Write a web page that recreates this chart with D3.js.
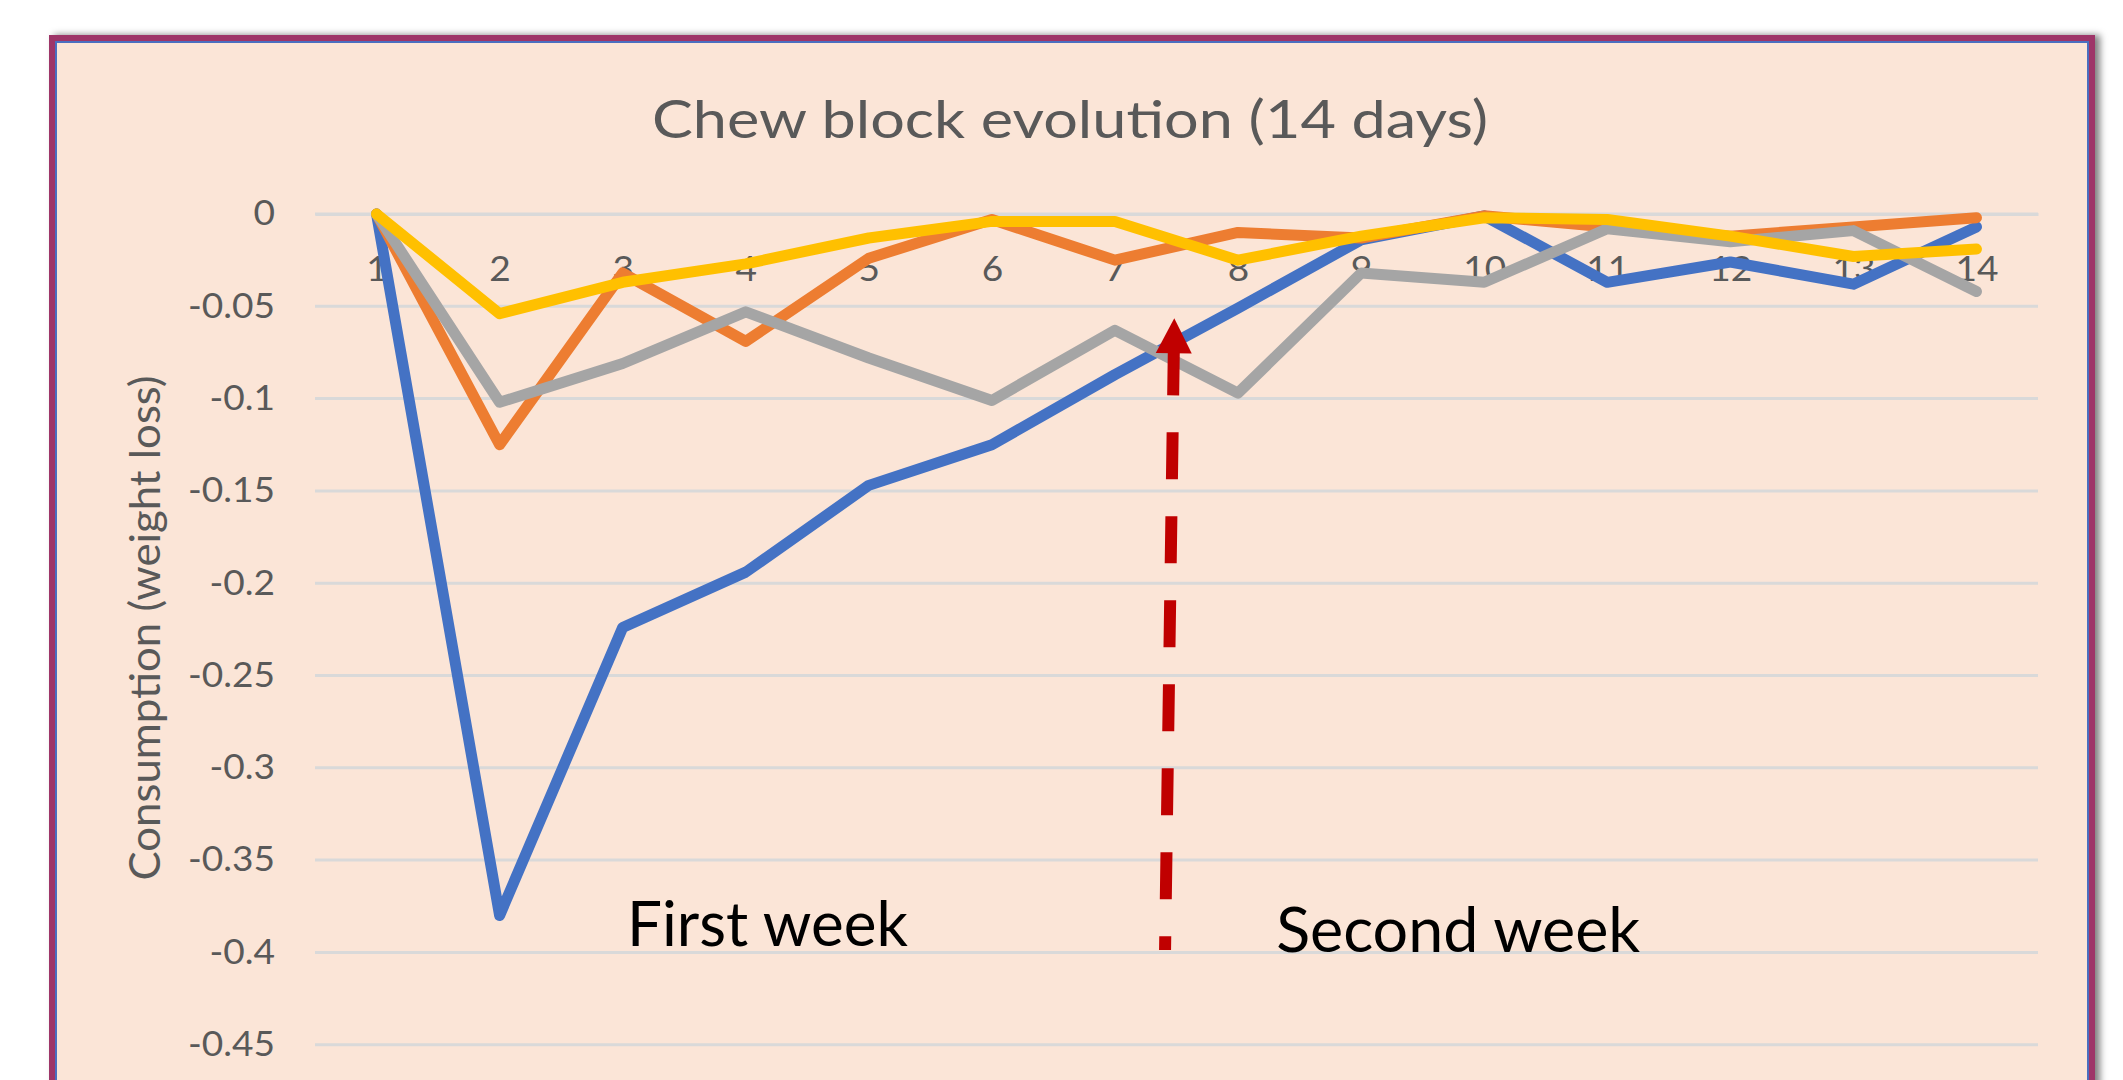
<!DOCTYPE html>
<html>
<head>
<meta charset="utf-8">
<script src="https://d3js.org/d3.v7.min.js"></script>
<style>
  body { margin: 0; background: #ffffff; }
  text { font-family: Lato, "Open Sans", sans-serif; }
</style>
</head>
<body>
<div id="chart"></div>
<script>
// chart data
var days = [1, 2, 3, 4, 5, 6, 7, 8, 9, 10, 11, 12, 13, 14];
var blueSeries   = [0, -0.38, -0.224, -0.194, -0.147, -0.125, -0.087, -0.051, -0.014, -0.001, -0.037, -0.026, -0.038, -0.007];
var orangeSeries = [0, -0.125, -0.032, -0.069, -0.024, -0.003, -0.025, -0.010, -0.013, -0.001, -0.007, -0.012, -0.007, -0.002];
var graySeries   = [0, -0.102, -0.081, -0.053, -0.078, -0.101, -0.063, -0.097, -0.032, -0.037, -0.008, -0.015, -0.009, -0.042];
var yellowSeries = [0, -0.054, -0.037, -0.027, -0.013, -0.004, -0.004, -0.025, -0.012, -0.002, -0.003, -0.012, -0.023, -0.019];
var yTicks = [0, -0.05, -0.1, -0.15, -0.2, -0.25, -0.3, -0.35, -0.4, -0.45];
var chartTitle = "Chew block evolution (14 days)";
var yTitle = "Consumption (weight loss)";

// svg container
var svgWidth = 2123;
var svgHeight = 1080;

// plot area
var plot = { left: 315, right: 2038, top: 214, bottom: 1137 };

var svg = d3.select("#chart").append("svg")
  .attr("width", svgWidth)
  .attr("height", svgHeight);

// drop shadow for the frame
var filter = svg.append("defs").append("filter")
  .attr("id", "shadow")
  .attr("x", "-5%").attr("y", "-5%")
  .attr("width", "110%").attr("height", "110%");
filter.append("feDropShadow")
  .attr("dx", 5).attr("dy", 0)
  .attr("stdDeviation", 3.5)
  .attr("flood-color", "#000")
  .attr("flood-opacity", 0.5);

// frame
svg.append("rect")
  .attr("x", 52).attr("y", 38)
  .attr("width", 2040).attr("height", 1100)
  .attr("fill", "#FBE5D7")
  .attr("stroke", "#9E3468")
  .attr("stroke-width", 6)
  .attr("filter", "url(#shadow)");
svg.append("rect")
  .attr("x", 56).attr("y", 42)
  .attr("width", 2032).attr("height", 1092)
  .attr("fill", "none")
  .attr("stroke", "#4A6FC0")
  .attr("stroke-width", 2);

// scales
var xScale = d3.scalePoint()
  .domain(days)
  .range([plot.left, plot.right])
  .padding(0.5);

// fractional day -> px, for annotations
function xDay(d) {
  return xScale(1) + (d - 1) * xScale.step();
}

var yScale = d3.scaleLinear()
  .domain([-0.5, 0])
  .range([plot.bottom, plot.top]);

// stretch text horizontally to match the reference's wide glyphs
function stretch(sel, factor) {
  sel.each(function() {
    var w = this.getComputedTextLength();
    d3.select(this)
      .attr("textLength", w * factor)
      .attr("lengthAdjust", "spacingAndGlyphs");
  });
}

// gridlines
svg.append("g")
  .selectAll("line")
  .data(yTicks)
  .enter()
  .append("line")
  .attr("x1", plot.left)
  .attr("x2", plot.right)
  .attr("y1", d => yScale(d))
  .attr("y2", d => yScale(d))
  .attr("stroke", "#D9D9D9")
  .attr("stroke-width", 3);

// y axis labels
var yAxis = d3.axisLeft(yScale)
  .tickValues(yTicks)
  .tickSize(0)
  .tickPadding(40)
  .tickFormat(d => String(d));

var yAxisG = svg.append("g")
  .attr("transform", `translate(${plot.left}, 0)`)
  .call(yAxis);
yAxisG.select(".domain").remove();
yAxisG.selectAll("text")
  .attr("font-family", "Lato")
  .attr("font-size", 34)
  .attr("fill", "#595959");

// x axis at zero
var xAxis = d3.axisBottom(xScale)
  .tickSize(0)
  .tickPadding(43);

var xAxisG = svg.append("g")
  .attr("transform", `translate(0, ${yScale(0)})`)
  .call(xAxis);
xAxisG.select(".domain")
  .attr("stroke", "#D9D9D9")
  .attr("stroke-width", 3);
xAxisG.selectAll("text")
  .attr("font-family", "Lato")
  .attr("font-size", 34)
  .attr("fill", "#595959");

// match the "-0.05" label width (87px)
var refW = yAxisG.selectAll("text").filter(d => d === -0.05).node().getComputedTextLength();
var tickStretch = 87 / refW;
stretch(yAxisG.selectAll("text"), tickStretch);
stretch(xAxisG.selectAll("text"), tickStretch);

// lines
var series = [
  { values: blueSeries, color: "#4472C4" },
  { values: orangeSeries, color: "#ED7D31" },
  { values: graySeries, color: "#A5A5A5" },
  { values: yellowSeries, color: "#FFC000" }
];

var line = d3.line()
  .x((d, i) => xScale(days[i]))
  .y(d => yScale(d));

svg.append("g")
  .selectAll("path")
  .data(series)
  .enter()
  .append("path")
  .attr("d", d => line(d.values))
  .attr("fill", "none")
  .attr("stroke", d => d.color)
  .attr("stroke-width", 11)
  .attr("stroke-linejoin", "round")
  .attr("stroke-linecap", "round");

// chart title
svg.append("text")
  .attr("x", 1070)
  .attr("y", 138)
  .attr("text-anchor", "middle")
  .attr("font-size", 53)
  .attr("fill", "#595959")
  .attr("textLength", 836)
  .attr("lengthAdjust", "spacingAndGlyphs")
  .text(chartTitle);

// y axis title
svg.append("text")
  .attr("transform", "translate(160, 628) rotate(-90)")
  .attr("text-anchor", "middle")
  .attr("font-size", 42)
  .attr("fill", "#595959")
  .attr("textLength", 505)
  .attr("lengthAdjust", "spacingAndGlyphs")
  .text(yTitle);

// week annotations
var notes = [
  { text: "First week", day: 3.035, value: -0.3965, width: 281 },
  { text: "Second week", day: 8.31, value: -0.4, width: 364 }
];

svg.append("g")
  .selectAll("text")
  .data(notes)
  .enter()
  .append("text")
  .attr("x", d => xDay(d.day))
  .attr("y", d => yScale(d.value))
  .attr("font-size", 61)
  .attr("fill", "#000000")
  .attr("textLength", d => d.width)
  .attr("lengthAdjust", "spacingAndGlyphs")
  .text(d => d.text);

// red dashed arrow between the weeks
var arrow = { fromDay: 7.407, fromValue: -0.3987, toDay: 7.482, toValue: -0.0565 };
var tipX = xDay(arrow.toDay), tipY = yScale(arrow.toValue);
var tailX = xDay(arrow.fromDay), tailY = yScale(arrow.fromValue);
var len = Math.hypot(tipX - tailX, tipY - tailY);
var ux = (tailX - tipX) / len, uy = (tailY - tipY) / len;

// shaft starts under the arrowhead
svg.append("line")
  .attr("x1", tipX + ux * 30)
  .attr("y1", tipY + uy * 30)
  .attr("x2", tailX)
  .attr("y2", tailY)
  .attr("stroke", "#C00000")
  .attr("stroke-width", 12)
  .attr("stroke-dasharray", "47,37");

var headLen = 35, headHalf = 18;
var bx = tipX + ux * headLen, by = tipY + uy * headLen;
svg.append("path")
  .attr("d", d3.line()([
    [tipX, tipY],
    [bx - uy * headHalf, by + ux * headHalf],
    [bx + uy * headHalf, by - ux * headHalf]
  ]) + "Z")
  .attr("fill", "#C00000");
</script>
</body>
</html>
